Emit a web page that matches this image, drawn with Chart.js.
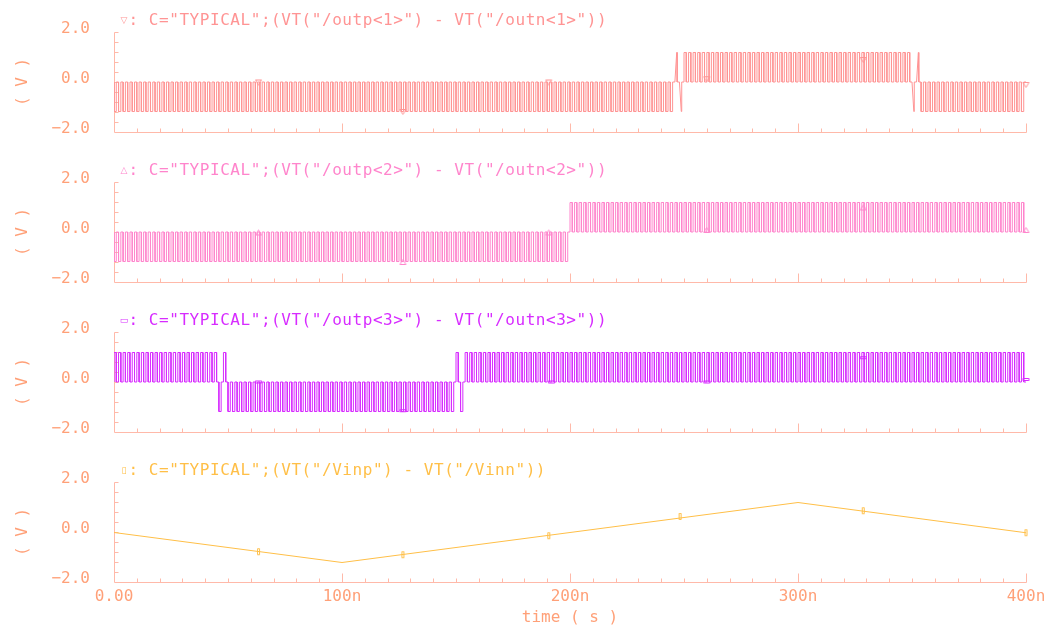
<!DOCTYPE html>
<html>
<head>
<meta charset="utf-8">
<script src="https://cdn.jsdelivr.net/npm/chart.js@4/dist/chart.umd.min.js"></script>
<style>
  html, body { margin: 0; padding: 0; background: #ffffff; }
  #wrap { position: relative; width: 1053px; height: 628px; background: #ffffff; overflow: hidden; }
  #wrap canvas { position: absolute; left: 0; }
</style>
</head>
<body>
<div id="wrap">
  <canvas id="panel1" width="1053" height="150" style="top:0px"></canvas>
  <canvas id="panel2" width="1053" height="150" style="top:150px"></canvas>
  <canvas id="panel3" width="1053" height="150" style="top:300px"></canvas>
  <canvas id="panel4" width="1053" height="178" style="top:450px"></canvas>
</div>
<script>
// ---- axis ticks ----
const timeTicksNs = [0, 100, 200, 300, 400];
const timeTickLabels = ['0.00', '100n', '200n', '300n', '400n'];
const voltTicks = [-2, 0, 2];
const voltTickLabels = ['\u22122.0', '0.0', '2.0'];

// ---- comparator outputs ----
// clock period of the comparators (ns) and their output levels (V)
const clockPeriodNs = 2;
const outHigh = 1.18;
const outLow = -1.18;
const outReset = 0;

// decision of every clock cycle, as runs of [cycles, level]
// H / L = resolves high / low, h / l = resolves slowly (near threshold)
const bit1Runs = [[123, 'L'], [1, 'h'], [1, 'l'], [50, 'H'], [1, 'l'], [1, 'h'], [23, 'L']];
const bit2Runs = [[100, 'L'], [100, 'H']];
const bit3Runs = [[23, 'H'], [1, 'L'], [1, 'H'], [50, 'L'], [1, 'H'], [1, 'L'], [123, 'H']];

// ---- differential input (triangle corners) ----
const vinTimesNs = [0, 100, 300, 400];
const vinVolts = [-0.02, -1.22, 1.18, -0.03];

// ---- trace markers ----
const markerTimes1 = [63.4, 126.7, 190.7, 260, 328.6, 400];
const markerVolts1 = [0, -1.18, 0, 0.13, 0.9, -0.1];
const markerTimes2 = [63.4, 126.7, 190.7, 260, 328.6, 400];
const markerVolts2 = [0, -1.18, 0, 0.1, 1.0, 0.1];
const markerTimes3 = [63.4, 126.7, 191.9, 260, 328.6, 400];
const markerVolts3 = [0, -1.15, 0, 0, 0.97, 0.1];
const markerTimes4 = [63.4, 126.7, 190.7, 248.3, 328.6, 400];
const markerVolts4 = [-0.79, -0.91, -0.15, 0.62, 0.85, -0.03];

// ---- styling ----
const monoFont = '"DejaVu Sans Mono", "Liberation Mono", monospace';
const labelColor = '#ffa078';
const axisColor = '#ffb9a9';

function comparatorTrace(runs) {
  const pts = [];
  let k = 0;
  for (const [count, level] of runs) {
    for (let i = 0; i < count; i++, k++) {
      const t0 = k * clockPeriodNs;
      const tHalf = t0 + clockPeriodNs / 2;
      const v = (level === 'H' || level === 'h') ? outHigh : outLow;
      const slow = (level === 'h' || level === 'l');
      pts.push({ x: t0, y: outReset });
      pts.push({ x: slow ? t0 + clockPeriodNs * 0.4 : t0, y: v });
      pts.push({ x: tHalf, y: v });
      pts.push({ x: tHalf, y: outReset });
    }
  }
  pts.push({ x: k * clockPeriodNs, y: outReset });
  return pts;
}

function pairs(xs, ys) {
  return xs.map((x, i) => ({ x: x, y: ys[i] }));
}

function markerImage(kind, color) {
  const c = document.createElement('canvas');
  c.width = 9; c.height = 9;
  const g = c.getContext('2d');
  g.strokeStyle = color;
  g.lineWidth = 1;
  g.beginPath();
  if (kind === 'down') { g.moveTo(1.5, 2.5); g.lineTo(7.5, 2.5); g.lineTo(4.5, 7.5); g.closePath(); }
  else if (kind === 'up') { g.moveTo(1.5, 7.5); g.lineTo(7.5, 7.5); g.lineTo(4.5, 2.5); g.closePath(); }
  else if (kind === 'wide') { g.rect(1.5, 3.5, 6, 2); }
  else { g.rect(3.5, 1.5, 2, 6); }
  g.stroke();
  return c;
}

// left and bottom axis lines with inward ticks
const axisFramePlugin = {
  id: 'axisFrame',
  beforeDatasetsDraw(chart) {
    const { ctx, scales: { x, y } } = chart;
    const x0 = Math.round(x.getPixelForValue(0)) + 0.5;
    const x1 = Math.round(x.getPixelForValue(400)) + 0.5;
    const yTop = Math.round(y.getPixelForValue(2)) + 0.5;
    const yBot = Math.round(y.getPixelForValue(-2)) + 0.5;
    ctx.save();
    ctx.strokeStyle = axisColor;
    ctx.lineWidth = 1;
    ctx.beginPath();
    ctx.moveTo(x0, yTop);
    ctx.lineTo(x0, yBot);
    ctx.lineTo(x1, yBot);
    for (let t = 10; t <= 400; t += 10) {
      const px = Math.round(x.getPixelForValue(t)) + 0.5;
      const len = (t % 100 === 0) ? 9 : 4;
      ctx.moveTo(px, yBot);
      ctx.lineTo(px, yBot - len);
    }
    for (let i = 1; i <= 10; i++) {
      const v = -2 + i * 0.4;
      const py = Math.round(y.getPixelForValue(v)) + 0.5;
      ctx.moveTo(x0, py);
      ctx.lineTo(x0 + 4, py);
    }
    ctx.stroke();
    ctx.restore();
  }
};

// expression heading above each trace
const traceTitlePlugin = {
  id: 'traceTitle',
  afterDraw(chart, args, opts) {
    const ctx = chart.ctx;
    ctx.save();
    ctx.fillStyle = opts.color;
    ctx.textBaseline = 'middle';
    ctx.textAlign = 'center';
    ctx.font = '9px "DejaVu Sans", sans-serif';
    ctx.fillText(opts.symbol, 124, 21);
    ctx.textAlign = 'left';
    ctx.font = '16px ' + monoFont;
    if ('letterSpacing' in ctx) ctx.letterSpacing = '0.55px';
    ctx.fillText(opts.text, 128.5, 21);
    ctx.restore();
  }
};

function makePanel(canvasId, cfg) {
  const bottom = !!cfg.bottom;
  return new Chart(document.getElementById(canvasId), {
    type: 'line',
    data: {
      datasets: [
        {
          data: cfg.trace,
          borderColor: cfg.color,
          borderWidth: 1,
          pointRadius: 0,
          tension: 0,
          fill: false
        },
        {
          data: cfg.markers,
          showLine: false,
          pointStyle: markerImage(cfg.markerKind, cfg.color),
          pointRadius: 4,
          borderColor: cfg.color,
          backgroundColor: 'rgba(0,0,0,0)',
          clip: false
        }
      ]
    },
    options: {
      responsive: false,
      animation: false,
      devicePixelRatio: 1,
      events: [],
      layout: { padding: { left: 0, right: 27, top: 32, bottom: 0 } },
      plugins: {
        legend: { display: false },
        tooltip: { enabled: false },
        traceTitle: { color: cfg.color, symbol: cfg.symbol, text: cfg.title }
      },
      scales: {
        x: {
          type: 'linear',
          min: 0,
          max: 400,
          grid: { display: false, drawTicks: false },
          border: { display: false },
          afterBuildTicks: (scale) => { scale.ticks = timeTicksNs.map(v => ({ value: v })); },
          ticks: {
            display: bottom,
            autoSkip: false,
            maxRotation: 0,
            padding: 5,
            color: labelColor,
            font: { family: monoFont, size: 16 },
            callback: (value) => timeTickLabels[timeTicksNs.indexOf(value)]
          },
          title: {
            display: bottom,
            text: 'time ( s )',
            color: labelColor,
            font: { family: monoFont, size: 16, lineHeight: 1 },
            padding: { top: 0, bottom: 2 }
          },
          afterFit: (scale) => {
            scale.height = bottom ? 46 : 18;
            scale.paddingLeft = 0;
            scale.paddingRight = 0;
          }
        },
        y: {
          min: -2,
          max: 2,
          grid: { display: false, drawTicks: false },
          border: { display: false },
          afterBuildTicks: (scale) => { scale.ticks = voltTicks.map(v => ({ value: v })); },
          ticks: {
            autoSkip: false,
            padding: 24,
            labelOffset: -3,
            color: labelColor,
            font: { family: monoFont, size: 16 },
            callback: (value) => voltTickLabels[voltTicks.indexOf(value)]
          },
          title: {
            display: true,
            text: '( V )',
            color: labelColor,
            font: { family: monoFont, size: 16 },
            padding: { top: 13, bottom: 0 }
          },
          afterFit: (scale) => {
            scale.width = 114;
            scale.paddingTop = 0;
            scale.paddingBottom = 0;
          }
        }
      }
    },
    plugins: [axisFramePlugin, traceTitlePlugin]
  });
}

makePanel('panel1', {
  trace: comparatorTrace(bit1Runs),
  markers: pairs(markerTimes1, markerVolts1),
  color: '#ff9494',
  markerKind: 'down',
  symbol: '\u25BD',
  title: ': C="TYPICAL";(VT("/outp<1>") - VT("/outn<1>"))'
});
makePanel('panel2', {
  trace: comparatorTrace(bit2Runs),
  markers: pairs(markerTimes2, markerVolts2),
  color: '#ff85cc',
  markerKind: 'up',
  symbol: '\u25B3',
  title: ': C="TYPICAL";(VT("/outp<2>") - VT("/outn<2>"))'
});
makePanel('panel3', {
  trace: comparatorTrace(bit3Runs),
  markers: pairs(markerTimes3, markerVolts3),
  color: '#d72cff',
  markerKind: 'wide',
  symbol: '\u25AD',
  title: ': C="TYPICAL";(VT("/outp<3>") - VT("/outn<3>"))'
});
makePanel('panel4', {
  trace: pairs(vinTimesNs, vinVolts),
  markers: pairs(markerTimes4, markerVolts4),
  color: '#ffbf47',
  markerKind: 'tall',
  symbol: '\u25AF',
  title: ': C="TYPICAL";(VT("/Vinp") - VT("/Vinn"))',
  bottom: true
});
</script>
</body>
</html>
